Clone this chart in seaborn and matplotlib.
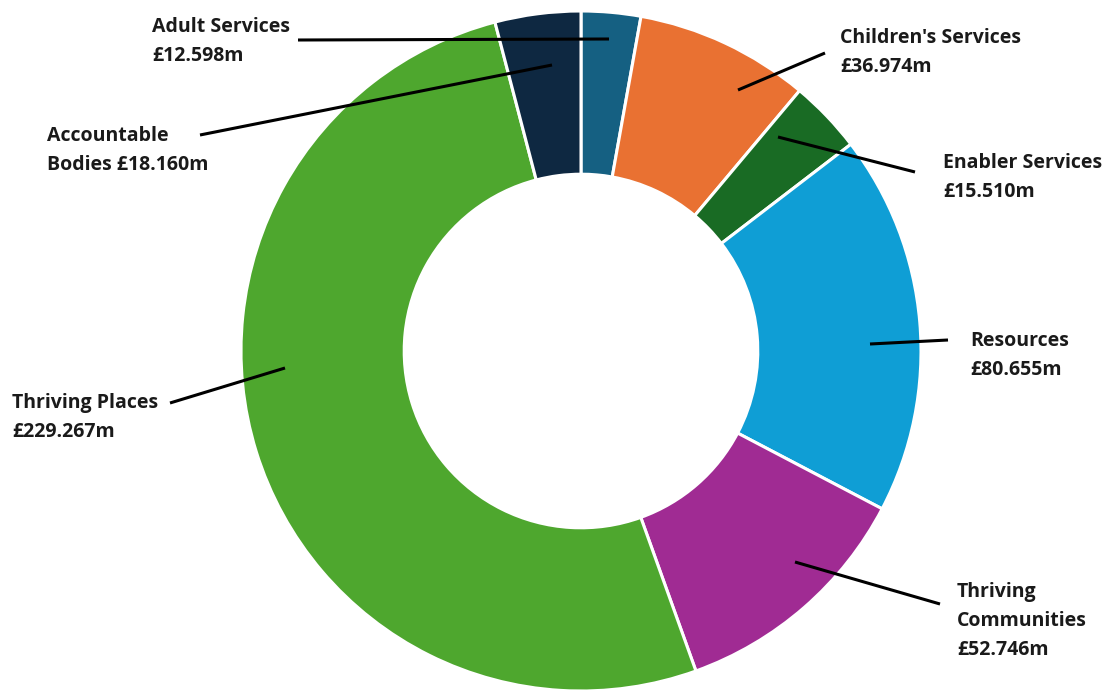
import matplotlib
matplotlib.use("Agg")
import matplotlib.pyplot as plt
import seaborn as sns

sns.set_theme(style="white")
plt.rcParams['font.family'] = ['Open Sans', 'DejaVu Sans']

categories = ["Adult Services", "Children's Services", "Enabler Services", "Resources",
              "Thriving Communities", "Thriving Places", "Accountable Bodies"]
values = [12.598, 36.974, 15.510, 80.655, 52.746, 229.267, 18.160]
label_texts = ["Adult Services\n£12.598m", "Children's Services\n£36.974m",
               "Enabler Services\n£15.510m", "Resources\n£80.655m",
               "Thriving\nCommunities\n£52.746m", "Thriving Places\n£229.267m",
               "Accountable\nBodies £18.160m"]
colors = ["#156082", "#E97132", "#196B24", "#0F9ED5", "#A02B93", "#4EA72E", "#0E2841"]

W, H = 1111, 691
CX, CY, R = 581, 351, 340
LINE_GAP = 29

fig = plt.figure(figsize=(W / 100, H / 100), dpi=100)
ax = fig.add_axes([0, 0, 1, 1])
ax.pie(values, colors=colors, startangle=90, counterclock=False, radius=1.0,
       wedgeprops=dict(width=0.48, edgecolor="white", linewidth=2.2))
ax.set_xlim(-CX / R, (W - CX) / R)
ax.set_ylim((CY - H) / R, CY / R)
ax.set_aspect("equal", adjustable="box")
ax.axis("off")


def px(x, y):
    return ((x - CX) / R, (CY - y) / R)


# (text x, first baseline y, line start, line end) in pixels
layout = [
    (152, 32, (298, 40), (609, 39)),
    (840, 43, (738, 90), (825, 53)),
    (943, 168, (778, 137), (915, 172)),
    (970, 346, (870, 344), (948, 340)),
    (957, 597, (795, 562), (940, 604)),
    (12, 408, (170, 403), (285, 368)),
    (47, 141, (200, 135), (552, 65)),
]

for txt, (tx, ty, p0, p1) in zip(label_texts, layout):
    for i, line in enumerate(txt.split("\n")):
        ax.text(*px(tx, ty + i * LINE_GAP), line, ha="left", va="baseline",
                fontsize=14, fontweight="bold", color="#1a1a1a")
    a, b = px(*p0), px(*p1)
    ax.plot([a[0], b[0]], [a[1], b[1]], color="black", lw=2.2,
            solid_capstyle="butt")

fig.savefig("out.png", dpi=100)
